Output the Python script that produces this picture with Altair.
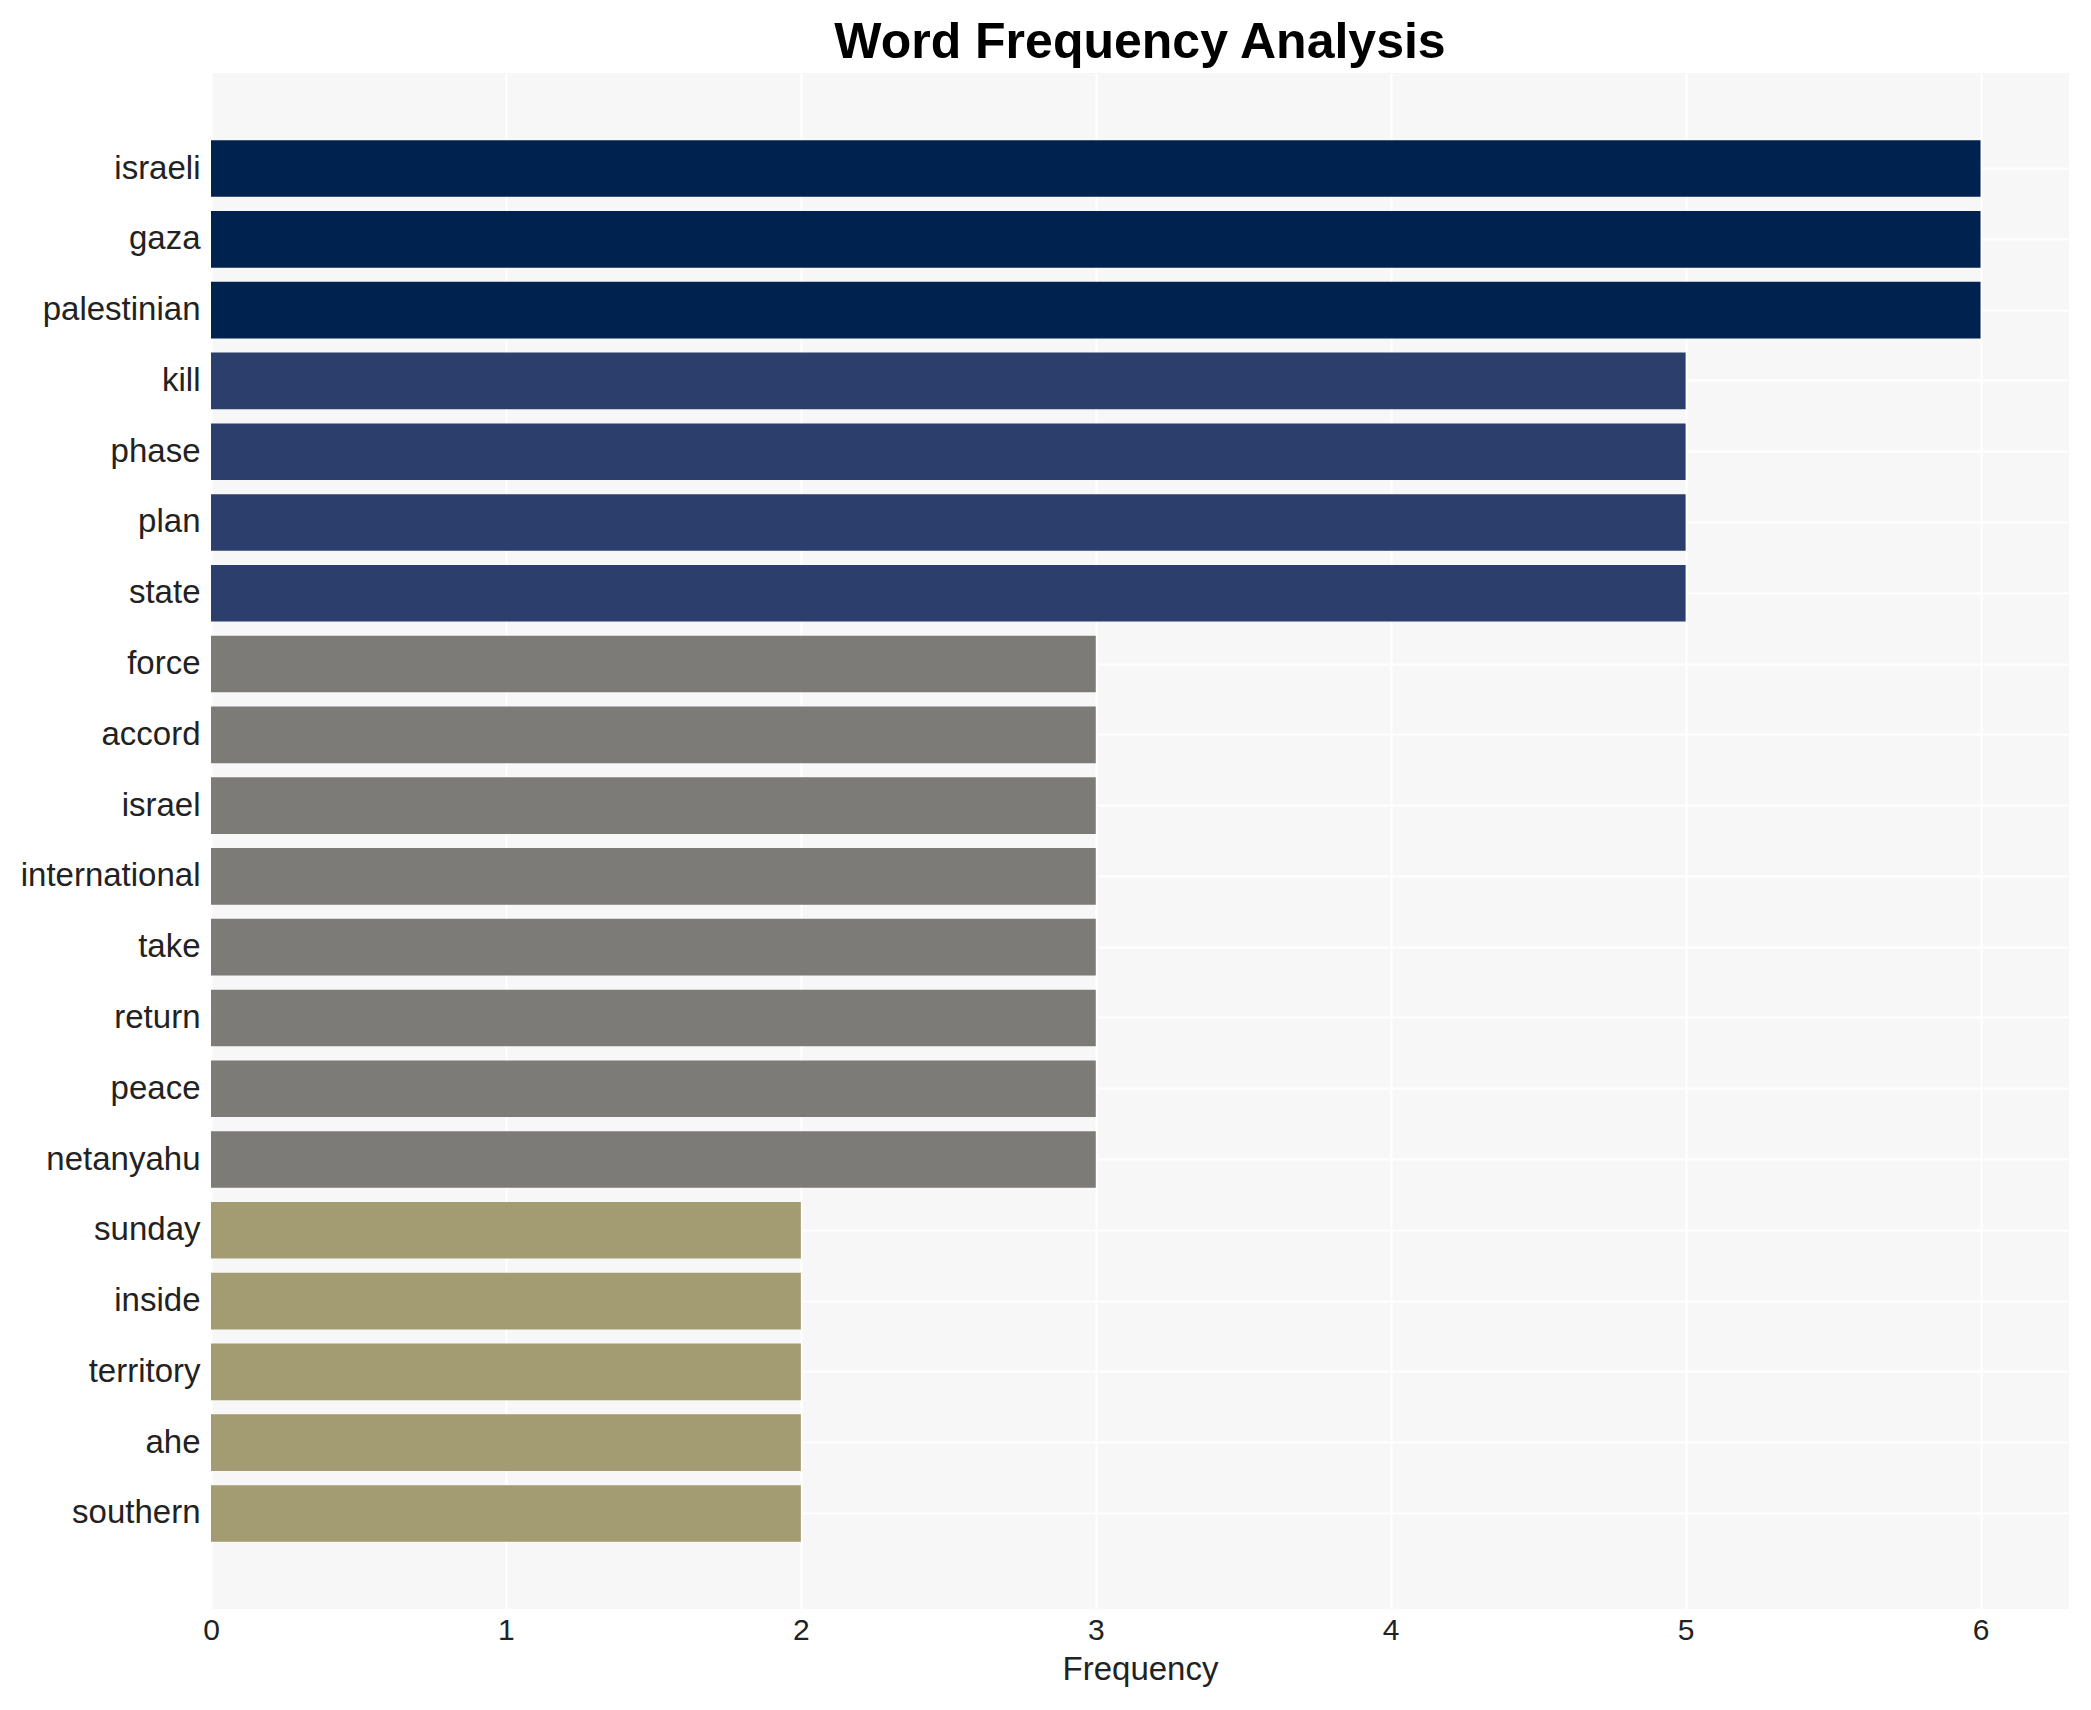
import altair as alt
import pandas as pd

words = ["israeli", "gaza", "palestinian", "kill", "phase", "plan", "state",
         "force", "accord", "israel", "international", "take", "return", "peace",
         "netanyahu", "sunday", "inside", "territory", "ahe", "southern"]
freqs = [6, 6, 6, 5, 5, 5, 5, 3, 3, 3, 3, 3, 3, 3, 3, 2, 2, 2, 2, 2]
x_ticks = [0, 1, 2, 3, 4, 5, 6]
color_domain = [2, 3, 5, 6]
color_range = ["#A39B72", "#7C7B78", "#2C3E6B", "#00224F"]

df = pd.DataFrame({"word": words, "freq": freqs})

FONT = "Liberation Sans"
TXT = "#222222"

chart = alt.Chart(df).mark_bar().encode(
    x=alt.X(
        "freq:Q",
        title="Frequency",
        scale=alt.Scale(domain=[0, 6.3], nice=False, zero=True),
        axis=alt.Axis(
            values=x_ticks, format="d", grid=True, gridColor="white", gridWidth=2,
            domain=False, ticks=False, labelFlush=False, labelFont=FONT,
            labelFontSize=30, labelColor=TXT, labelPadding=6, titleFont=FONT,
            titleFontSize=33, titleFontWeight="normal", titleColor=TXT,
            titlePadding=8,
        ),
    ),
    y=alt.Y(
        "word:N",
        sort=words,
        title=None,
        scale=alt.Scale(paddingInner=0.2, paddingOuter=0.95),
        axis=alt.Axis(
            grid=True, gridColor="white", gridWidth=2, bandPosition=0.5,
            domain=False, ticks=False, labelFont=FONT, labelFontSize=33,
            labelColor=TXT, labelPadding=11,
        ),
    ),
    color=alt.Color(
        "freq:Q",
        scale=alt.Scale(domain=color_domain, range=color_range),
        legend=None,
    ),
).properties(
    width=1858,
    height=1536,
    background="white",
    title=alt.Title(
        "Word Frequency Analysis", fontSize=50, fontWeight="bold", font=FONT,
        color="black", anchor="middle", offset=5,
    ),
    padding={"left": 12, "top": 10, "right": 10, "bottom": 10},
).configure_view(
    fill="#F7F7F7", strokeWidth=0
)

chart.save("out.html", embed_options={"renderer": "svg", "actions": False})
